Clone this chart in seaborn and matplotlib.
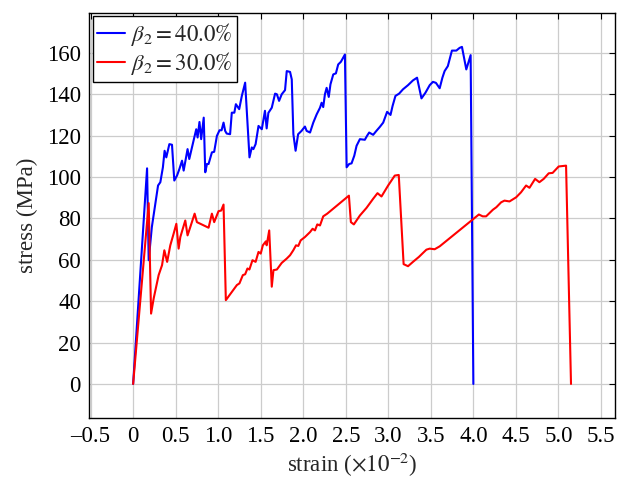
import matplotlib
matplotlib.use("Agg")
import matplotlib.pyplot as plt
import seaborn as sns
import pandas as pd

# ---- data ----
series_labels = [r"$\beta_2 = 40.0\%$", r"$\beta_2 = 30.0\%$"]
series_colors = ["#0000ff", "#ff0000"]

strain_40 = [0, 0.164, 0.183, 0.22, 0.293, 0.32, 0.35, 0.37, 0.39, 0.426,
             0.457, 0.484, 0.516, 0.545, 0.575, 0.594, 0.64, 0.66, 0.69, 0.742,
             0.758, 0.78, 0.80, 0.83, 0.848, 0.868, 0.887, 0.926, 0.953, 0.985,
             1.016, 1.04, 1.063, 1.082, 1.10, 1.14, 1.16, 1.19, 1.208, 1.247,
             1.278, 1.317, 1.368, 1.395, 1.414, 1.44, 1.474, 1.513, 1.55, 1.57,
             1.59, 1.63, 1.669, 1.69, 1.716, 1.747, 1.786, 1.806, 1.845, 1.865,
             1.884, 1.91, 1.94, 1.98, 2.02, 2.04, 2.08, 2.118, 2.158, 2.197,
             2.216, 2.235, 2.255, 2.275, 2.30, 2.32, 2.353, 2.384, 2.411, 2.443,
             2.49, 2.51, 2.54, 2.568, 2.60, 2.627, 2.666, 2.724, 2.75, 2.775,
             2.822, 2.86, 2.90, 2.94, 2.986, 3.026, 3.05, 3.084, 3.127, 3.173,
             3.232, 3.29, 3.338, 3.39, 3.436, 3.487, 3.525, 3.56, 3.604, 3.636,
             3.662, 3.70, 3.748, 3.80, 3.838, 3.866, 3.917, 3.968, 4.0]
stress_40 = [0, 104.2, 59.8, 75.8, 95.9, 97.5, 104.7, 112.7, 109.5, 115.9,
             115.6, 98.3, 100.7, 104, 107.9, 103.1, 113.5, 108.7, 114, 123.1,
             119.1, 126.6, 118.3, 128.7, 102.3, 106.3, 106.3, 111.9, 112.2, 119.9,
             122.6, 122.6, 126.3, 122.3, 121, 120.7, 131.1, 131.1, 135.2, 132.8,
             139.2, 145.6, 109.5, 114.3, 113.5, 115.9, 124.7, 123.1, 132, 123.5,
             131, 133.5, 140.3, 140, 136.8, 140, 142, 151.2, 150.8, 147.2,
             120.7, 112.7, 120.7, 122.3, 124.4, 122.3, 121.5, 126.3, 130.3, 133.5,
             135.9, 133.8, 140, 143.1, 138.7, 144.8, 149.6, 150.1, 154.4, 155.7,
             159.2, 104.7, 106.3, 106.6, 110.3, 115.1, 118.3, 118, 119.9, 121.5,
             120.4, 122.3, 124.2, 126.3, 131.5, 130, 134.3, 139.2, 140.3, 142.4,
             144.4, 146.7, 148, 138, 140.7, 144.4, 146, 145.5, 142.9, 148,
             151.2, 153.6, 161.1, 161.1, 162.4, 162.9, 152, 158.9, 0]

strain_30 = [0, 0.183, 0.211, 0.242, 0.30, 0.34, 0.367, 0.40, 0.437, 0.476,
             0.508, 0.535, 0.555, 0.613, 0.64, 0.672, 0.723, 0.75, 0.887, 0.926,
             0.953, 1.004, 1.035, 1.063, 1.09, 1.22, 1.25, 1.29, 1.317, 1.344,
             1.367, 1.403, 1.44, 1.474, 1.50, 1.525, 1.56, 1.57, 1.60, 1.63,
             1.65, 1.69, 1.747, 1.806, 1.845, 1.883, 1.915, 1.942, 1.97, 2.02,
             2.08, 2.11, 2.138, 2.165, 2.197, 2.235, 2.282, 2.537, 2.56, 2.595,
             2.666, 2.744, 2.822, 2.873, 2.92, 2.998, 3.076, 3.123, 3.18, 3.232,
             3.29, 3.36, 3.40, 3.448, 3.487, 3.545, 3.604, 4.065, 4.11, 4.15,
             4.23, 4.27, 4.327, 4.366, 4.425, 4.503, 4.56, 4.62, 4.66, 4.726,
             4.776, 4.827, 4.886, 4.932, 5.003, 5.09, 5.148]
stress_30 = [0, 87.4, 34, 41.4, 52.6, 57.4, 64.6, 59, 67, 72.6,
             77.4, 65.4, 71, 79, 71.8, 75.8, 82.3, 78.2, 75.5, 82.3,
             78.2, 83.5, 83.8, 86.7, 40.5, 47.8, 48.6, 52.6, 53, 55.8,
             55.3, 59.8, 59, 63.8, 63, 67, 68.9, 67, 74.2, 47,
             55, 55.3, 58.5, 60.6, 62.2, 64.6, 67, 66.7, 69.4, 71,
             73.4, 75, 74.2, 77.1, 76.6, 81, 82.3, 91, 78.2, 77.1,
             81.4, 85.1, 89.5, 92.2, 90.6, 95.9, 100.7, 101, 57.9, 56.9,
             59, 61.4, 63, 64.9, 65.4, 65.1, 66.5, 81.9, 81, 81,
             84.2, 85.4, 87.8, 88.6, 88.2, 90.2, 92.6, 95.9, 94.8, 99.1,
             97.5, 99.1, 101.8, 102, 105.1, 105.5, 0]

x_ticks = [-0.5, 0, 0.5, 1.0, 1.5, 2.0, 2.5, 3.0, 3.5, 4.0, 4.5, 5.0, 5.5]
x_tick_labels = ["\u20130.5", "0", "0.5", "1.0", "1.5", "2.0", "2.5", "3.0",
                 "3.5", "4.0", "4.5", "5.0", "5.5"]
y_ticks = [0, 20, 40, 60, 80, 100, 120, 140, 160]
x_label = r"strain ($\times10^{-2}$)"
y_label = "stress (MPa)"

assert len(strain_40) == len(stress_40), (len(strain_40), len(stress_40))
assert len(strain_30) == len(stress_30), (len(strain_30), len(stress_30))

df = pd.concat([
    pd.DataFrame({"strain": strain_40, "stress": stress_40, "series": series_labels[0]}),
    pd.DataFrame({"strain": strain_30, "stress": stress_30, "series": series_labels[1]}),
], ignore_index=True)

# ---- style ----
sns.set_style("white")
plt.rcParams["font.family"] = ["Liberation Serif", "DejaVu Serif"]
plt.rcParams["mathtext.fontset"] = "stix"
FS = 16.5
plt.rcParams["font.size"] = FS

fig = plt.figure(figsize=(6.19, 4.79), dpi=100)
ax = fig.add_axes([0.1443, 0.128, 0.9935 - 0.1443, 0.973 - 0.128])

sns.lineplot(data=df, x="strain", y="stress", hue="series",
             palette=dict(zip(series_labels, series_colors)),
             sort=False, estimator=None, linewidth=1.5, ax=ax)

ax.set_xlim(-0.515, 5.665)
ax.set_ylim(-16.3, 179.3)
ax.set_xticks(x_ticks)
ax.set_xticklabels(x_tick_labels)
ax.set_yticks(y_ticks)
ax.set_yticklabels([str(v) for v in y_ticks])
ax.grid(True, color="#cccccc", linewidth=0.9)
ax.set_axisbelow(True)
ax.tick_params(direction="in", length=4, width=0.8, top=True, right=True,
               labelsize=FS, pad=6, colors="black")
for s in ax.spines.values():
    s.set_color("black")
    s.set_linewidth(1.0)
ax.set_xlabel(x_label, fontsize=FS, labelpad=3)
ax.set_ylabel(y_label, fontsize=FS, labelpad=6)

leg = ax.legend(loc="upper left", fontsize=FS, frameon=True, fancybox=False,
                framealpha=1, edgecolor="black", borderaxespad=0.15,
                handlelength=1.2, handletextpad=0.25, borderpad=0.2,
                labelspacing=0.1)
leg.get_frame().set_linewidth(1.0)
leg.set_title(None)

fig.savefig("out.png", dpi=100)
